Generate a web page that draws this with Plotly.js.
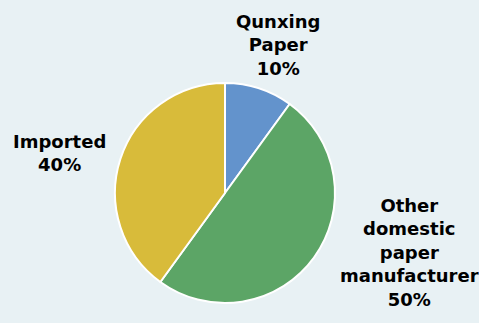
<!DOCTYPE html>
<html>
<head>
<meta charset="utf-8">
<script src="https://cdn.plot.ly/plotly-3.0.1.min.js"></script>
<style>
  html, body { margin: 0; padding: 0; background: #e8f1f4; }
  #chart { width: 479px; height: 323px; }
</style>
</head>
<body>
<div id="chart"></div>
<script>
// Market share of paper supply
const labels = ['Qunxing Paper', 'Other domestic paper manufacturer', 'Imported'];
const shares = [10, 50, 40];
const colors = ['#6393cc', '#5ca566', '#d8bb3a'];

// label block centres (pixels) for the outside callouts
const labelPos = [[278, 45], [409, 252], [59, 153]];

const W = 479, H = 323;
const total = shares.reduce((a, b) => a + b, 0);

const annotations = labels.map((lab, i) => ({
  text: lab.split(' ').join('<br>') + '<br>' + Math.round(shares[i] / total * 100) + '%',
  xref: 'paper', yref: 'paper',
  x: labelPos[i][0] / W,
  y: 1 - labelPos[i][1] / H,
  xanchor: 'center', yanchor: 'middle',
  showarrow: false,
  align: 'center',
  font: { family: 'DejaVu Sans, sans-serif', size: 18, color: '#000000', weight: 'bold' }
}));

const cx = 225, cy = 193, r = 110;

Plotly.newPlot('chart', [{
  type: 'pie',
  labels: labels,
  values: shares,
  sort: false,
  direction: 'clockwise',
  rotation: 0,
  textinfo: 'none',
  hoverinfo: 'none',
  marker: { colors: colors, line: { color: '#ffffff', width: 2 } },
  domain: {
    x: [(cx - r) / W, (cx + r) / W],
    y: [1 - (cy + r) / H, 1 - (cy - r) / H]
  }
}], {
  width: W, height: H,
  margin: { l: 0, r: 0, t: 0, b: 0 },
  paper_bgcolor: '#e8f1f4',
  plot_bgcolor: '#e8f1f4',
  showlegend: false,
  annotations: annotations
}, { staticPlot: true });
</script>
</body>
</html>
